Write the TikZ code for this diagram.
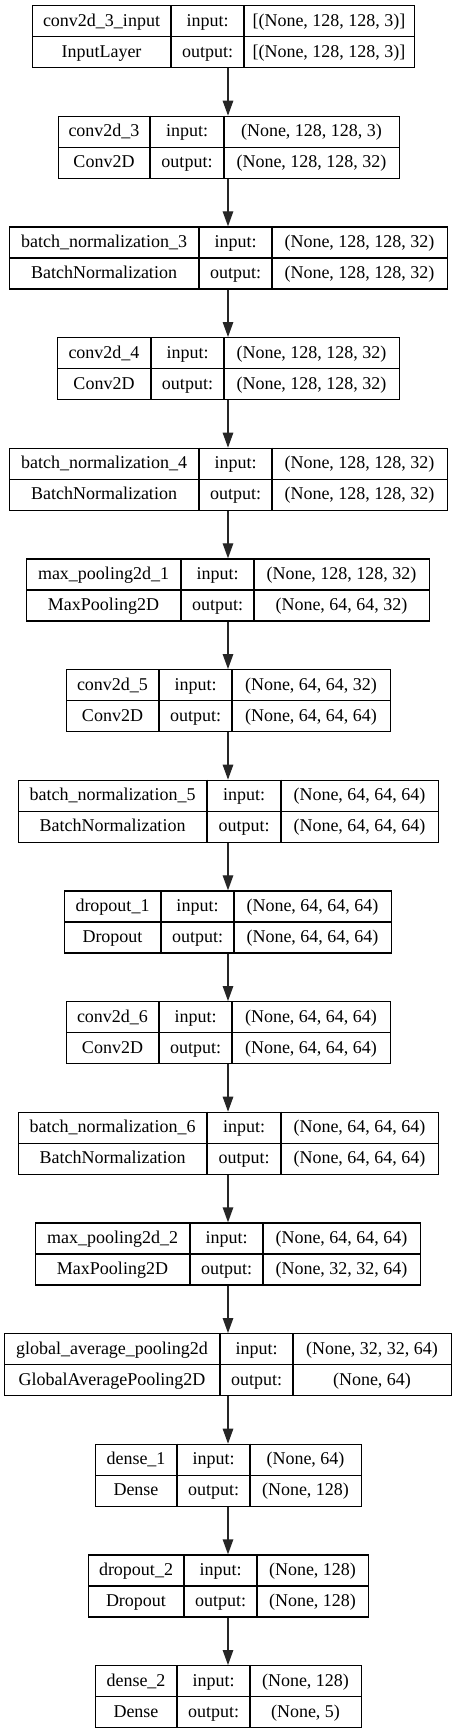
\documentclass[tikz,border=0pt]{standalone}
\usepackage{fontspec}
\setmainfont{Liberation Serif}
\usetikzlibrary{arrows.meta}
\tikzset{
  layerbox/.style={draw=black, line width=1.2pt, inner sep=0pt, rectangle},
  cellline/.style={draw=black, line width=1.2pt},
  celltext/.style={anchor=base, inner sep=0pt, font=\fontsize{18}{21}\selectfont, text=black},
  flow/.style={draw=black!85, line width=1.3pt, -{Triangle[length=15pt,width=10.5pt]}},
}
\newcommand{\layer}[9]{%
  \pgfmathsetmacro\ltop{5+110.667*#1}%
  \pgfmathsetmacro\lmid{\ltop+31}%
  \pgfmathsetmacro\lbot{\ltop+62}%
  \pgfmathsetmacro\lw{#5-#2}%
  \node[layerbox, minimum width=\lw pt, minimum height=62pt, anchor=north west] (L#1) at (#2,\ltop) {};
  \draw[cellline] (#3,\ltop) -- (#3,\lbot);
  \draw[cellline] (#4,\ltop) -- (#4,\lbot);
  \draw[cellline] (L#1.west) -- (L#1.east);
  \node[celltext] (L#1n) at ({(#2+#3)/2},{\ltop+21}) {#6};
  \node[celltext] (L#1c) at ({(#2+#3)/2},{\lmid+21}) {#7};
  \node[celltext] (L#1i) at ({(#3+#4)/2},{\ltop+21}) {input:};
  \node[celltext] (L#1o) at ({(#3+#4)/2},{\lmid+21}) {output:};
  \node[celltext] (L#1x) at ({(#4+#5)/2},{\ltop+21}) {#8};
  \node[celltext] (L#1y) at ({(#4+#5)/2},{\lmid+21}) {#9};
}
\begin{document}
\begin{tikzpicture}[x=1pt,y=-1pt]
  \fill[white] (0,0) rectangle (456,1733);
  \useasboundingbox (0,0) rectangle (456,1733);
  \coordinate (axis) at (228,0);
  \layer{0}{32}{171}{244}{414}{conv2d\_3\_input}{InputLayer}{[(None, 128, 128, 3)]}{[(None, 128, 128, 3)]}
  \layer{1}{58}{150}{224}{399}{conv2d\_3}{Conv2D}{(None, 128, 128, 3)}{(None, 128, 128, 32)}
  \layer{2}{9}{199}{272}{447}{batch\_normalization\_3}{BatchNormalization}{(None, 128, 128, 32)}{(None, 128, 128, 32)}
  \layer{3}{57}{151}{224}{399}{conv2d\_4}{Conv2D}{(None, 128, 128, 32)}{(None, 128, 128, 32)}
  \layer{4}{9}{199}{272}{447}{batch\_normalization\_4}{BatchNormalization}{(None, 128, 128, 32)}{(None, 128, 128, 32)}
  \layer{5}{26}{181}{254}{429}{max\_pooling2d\_1}{MaxPooling2D}{(None, 128, 128, 32)}{(None, 64, 64, 32)}
  \layer{6}{66}{159}{232}{390}{conv2d\_5}{Conv2D}{(None, 64, 64, 32)}{(None, 64, 64, 64)}
  \layer{7}{18}{207}{281}{438}{batch\_normalization\_5}{BatchNormalization}{(None, 64, 64, 64)}{(None, 64, 64, 64)}
  \layer{8}{64}{161}{234}{391}{dropout\_1}{Dropout}{(None, 64, 64, 64)}{(None, 64, 64, 64)}
  \layer{9}{66}{159}{232}{390}{conv2d\_6}{Conv2D}{(None, 64, 64, 64)}{(None, 64, 64, 64)}
  \layer{10}{18}{207}{281}{438}{batch\_normalization\_6}{BatchNormalization}{(None, 64, 64, 64)}{(None, 64, 64, 64)}
  \layer{11}{35}{190}{263}{420}{max\_pooling2d\_2}{MaxPooling2D}{(None, 64, 64, 64)}{(None, 32, 32, 64)}
  \layer{12}{4}{220}{293}{451}{global\_average\_pooling2d}{GlobalAveragePooling2D}{(None, 32, 32, 64)}{(None, 64)}
  \layer{13}{95}{177}{250}{361}{dense\_1}{Dense}{(None, 64)}{(None, 128)}
  \layer{14}{88}{184}{257}{368}{dropout\_2}{Dropout}{(None, 128)}{(None, 128)}
  \layer{15}{95}{177}{250}{361}{dense\_2}{Dense}{(None, 128)}{(None, 5)}
  \foreach \i [evaluate=\i as \j using int(\i+1)] in {0,...,14} {
    \draw[flow] (L\i.south -| axis) -- (L\j.north -| axis);
  }
\end{tikzpicture}
\end{document}
